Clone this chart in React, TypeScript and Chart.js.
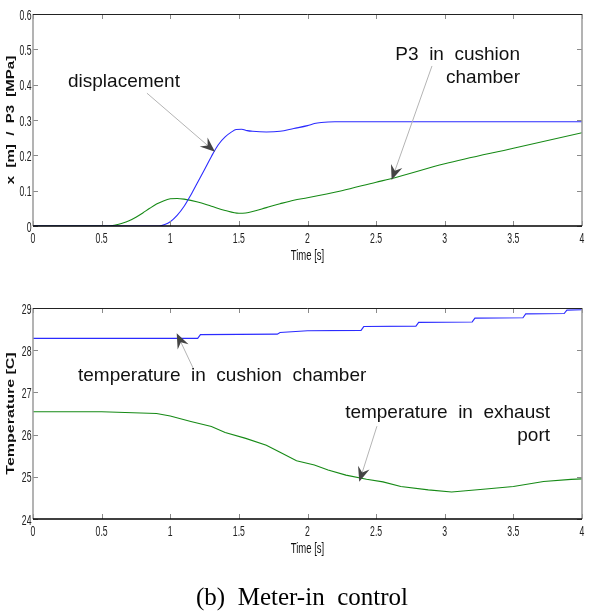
import React, { useEffect, useRef } from "react";
import { Chart, registerables } from "chart.js";

Chart.register(...registerables);

// ---------- data ----------
const timeTicks = [0, 0.5, 1, 1.5, 2, 2.5, 3, 3.5, 4];
const timeTickLabels = ["0", "0.5", "1", "1.5", "2", "2.5", "3", "3.5", "4"];
const topYTicks = [0, 0.1, 0.2, 0.3, 0.4, 0.5, 0.6];
const topYTickLabels = ["0", "0.1", "0.2", "0.3", "0.4", "0.5", "0.6"];
const tempTicks = [24, 25, 26, 27, 28, 29];
const tempTickLabels = ["24", "25", "26", "27", "28", "29"];

const dispTime = [0, 0.92, 0.96, 1.0, 1.05, 1.1, 1.15, 1.2, 1.25, 1.3, 1.35, 1.4, 1.45, 1.48, 1.52, 1.56, 1.6, 1.7, 1.8, 1.9, 2.0, 2.05, 2.1, 2.2, 2.5, 3.0, 3.5, 4.0];
const dispValues = [0, 0, 0.004, 0.012, 0.03, 0.055, 0.088, 0.124, 0.16, 0.197, 0.23, 0.252, 0.267, 0.273, 0.274, 0.27, 0.268, 0.266, 0.268, 0.276, 0.284, 0.29, 0.293, 0.295, 0.295, 0.295, 0.295, 0.295];

const p3Time = [0, 0.55, 0.6, 0.65, 0.7, 0.75, 0.8, 0.85, 0.9, 0.95, 1.0, 1.05, 1.1, 1.2, 1.3, 1.4, 1.5, 1.55, 1.6, 1.7, 1.8, 1.9, 2.0, 2.25, 2.5, 2.6, 3.0, 3.5, 4.0];
const p3Values = [0, 0, 0.003, 0.008, 0.015, 0.025, 0.037, 0.05, 0.062, 0.071, 0.077, 0.078, 0.076, 0.068, 0.056, 0.044, 0.036, 0.037, 0.041, 0.052, 0.063, 0.073, 0.08, 0.1, 0.124, 0.133, 0.176, 0.22, 0.264];

const cushionTime = [0, 1.2, 1.22, 1.78, 1.8, 2.0, 2.39, 2.41, 2.79, 2.81, 3.2, 3.22, 3.57, 3.59, 3.87, 3.89, 4.0];
const cushionTemp = [28.28, 28.28, 28.37, 28.38, 28.42, 28.46, 28.47, 28.56, 28.57, 28.66, 28.67, 28.76, 28.77, 28.86, 28.87, 28.95, 28.96];

const exhaustTime = [0, 0.5, 0.9, 1.0, 1.15, 1.3, 1.4, 1.55, 1.7, 1.8, 1.92, 2.05, 2.15, 2.28, 2.43, 2.55, 2.68, 2.88, 3.05, 3.3, 3.5, 3.72, 3.92, 4.0];
const exhaustTemp = [26.54, 26.54, 26.5, 26.44, 26.31, 26.19, 26.05, 25.91, 25.75, 25.58, 25.38, 25.28, 25.16, 25.04, 24.94, 24.88, 24.77, 24.69, 24.64, 24.71, 24.77, 24.89, 24.94, 24.95];

// ---------- annotations (data coordinates) ----------
type Note = { lines: string[]; x: number; y: number; align: CanvasTextAlign };
type Arrow = { from: [number, number]; to: [number, number] };

const topNotes: Note[] = [
  { lines: ["displacement"], x: 0.255, y: 0.393, align: "left" },
  { lines: ["P3  in  cushion", "chamber"], x: 3.548, y: 0.47, align: "right" },
];
const topArrows: Arrow[] = [
  { from: [0.83, 0.376], to: [1.326, 0.21] },
  { from: [2.907, 0.453], to: [2.613, 0.13] },
];
const bottomNotes: Note[] = [
  { lines: ["temperature  in  cushion  chamber"], x: 0.328, y: 27.27, align: "left" },
  { lines: ["temperature  in  exhaust", "port"], x: 3.767, y: 26.39, align: "right" },
];
const bottomArrows: Arrow[] = [
  { from: [1.166, 27.58], to: [1.047, 28.4] },
  { from: [2.506, 26.2], to: [2.377, 24.88] },
];

const BLUE = "#2b2bff";
const GREEN = "#168a16";
const SANS = "'Liberation Sans', Arial, sans-serif";

function pts(xs: number[], ys: number[]) {
  return xs.map((x, i) => ({ x, y: ys[i] }));
}

function squeezed(ctx: any, text: string, x: number, y: number, align: CanvasTextAlign, sx: number) {
  ctx.save();
  ctx.translate(x, y);
  ctx.scale(sx, 1);
  ctx.textAlign = align;
  ctx.fillText(text, 0, 0);
  ctx.restore();
}

function makeAxesPlugin(yTicks: number[], yLabels: string[], yTitle: string, yTitleSize: number) {
  return {
    id: "axesframe",
    afterDatasetsDraw(chart: any) {
      const { ctx, chartArea: a, scales } = chart;
      const xs = scales.x;
      const ys = scales.y;
      ctx.save();
      // inward tick marks
      ctx.lineWidth = 1;
      ctx.strokeStyle = "#8a8a8a";
      ctx.beginPath();
      timeTicks.forEach((v) => {
        const px = Math.round(xs.getPixelForValue(v)) + 0.5;
        ctx.moveTo(px, a.bottom);
        ctx.lineTo(px, a.bottom - 5);
        ctx.moveTo(px, a.top);
        ctx.lineTo(px, a.top + 5);
      });
      yTicks.forEach((v) => {
        const py = Math.round(ys.getPixelForValue(v)) + 0.5;
        ctx.moveTo(a.left, py);
        ctx.lineTo(a.left + 5, py);
        ctx.moveTo(a.right, py);
        ctx.lineTo(a.right - 5, py);
      });
      ctx.stroke();
      // box
      ctx.strokeStyle = "#9a9a9a";
      ctx.lineWidth = 1.5;
      ctx.beginPath();
      ctx.moveTo(a.left, a.top);
      ctx.lineTo(a.left, a.bottom);
      ctx.moveTo(a.right, a.top);
      ctx.lineTo(a.right, a.bottom);
      ctx.stroke();
      ctx.strokeStyle = "#222";
      ctx.lineWidth = 1;
      ctx.beginPath();
      ctx.moveTo(a.left, Math.round(a.top) + 0.5);
      ctx.lineTo(a.right, Math.round(a.top) + 0.5);
      ctx.stroke();
      ctx.strokeStyle = "#000";
      ctx.lineWidth = 1.5;
      ctx.beginPath();
      ctx.moveTo(a.left, a.bottom);
      ctx.lineTo(a.right, a.bottom);
      ctx.stroke();

      // tick labels (condensed, like the reference)
      ctx.fillStyle = "#222";
      ctx.font = `14px ${SANS}`;
      ctx.textBaseline = "alphabetic";
      timeTicks.forEach((v, i) => {
        squeezed(ctx, timeTickLabels[i], xs.getPixelForValue(v), a.bottom + 17, "center", 0.62);
      });
      yTicks.forEach((v, i) => {
        squeezed(ctx, yLabels[i], a.left - 1.5, ys.getPixelForValue(v) + 5.5, "right", 0.62);
      });
      // x title
      ctx.fillStyle = "#111";
      ctx.font = `14px ${SANS}`;
      squeezed(ctx, "Time [s]", (a.left + a.right) / 2, a.bottom + 34, "center", 0.68);
      // y title (rotated, condensed)
      ctx.font = `bold ${yTitleSize}px ${SANS}`;
      ctx.save();
      ctx.translate(11.5, (a.top + a.bottom) / 2);
      ctx.scale(0.68, 1);
      ctx.rotate(-Math.PI / 2);
      ctx.textAlign = "center";
      ctx.textBaseline = "middle";
      ctx.fillText(yTitle, 0, 0);
      ctx.restore();
      ctx.restore();
    },
  };
}

function makeNotesPlugin(notes: Note[], arrows: Arrow[]) {
  return {
    id: "notes",
    afterDraw(chart: any) {
      const { ctx, scales } = chart;
      const xs = scales.x;
      const ys = scales.y;
      ctx.save();
      ctx.font = `19px ${SANS}`;
      ctx.fillStyle = "#111";
      ctx.textBaseline = "alphabetic";
      notes.forEach((n) => {
        ctx.textAlign = n.align;
        const px = xs.getPixelForValue(n.x);
        const py = ys.getPixelForValue(n.y);
        n.lines.forEach((l, i) => ctx.fillText(l, px, py + i * 23));
      });
      arrows.forEach((ar) => {
        const x1 = xs.getPixelForValue(ar.from[0]);
        const y1 = ys.getPixelForValue(ar.from[1]);
        const x2 = xs.getPixelForValue(ar.to[0]);
        const y2 = ys.getPixelForValue(ar.to[1]);
        const dx = x2 - x1;
        const dy = y2 - y1;
        const len = Math.hypot(dx, dy);
        const ux = dx / len;
        const uy = dy / len;
        const nx = -uy;
        const ny = ux;
        const L = 15;
        const W = 12;
        ctx.strokeStyle = "#b4b4b4";
        ctx.lineWidth = 1;
        ctx.beginPath();
        ctx.moveTo(x1, y1);
        ctx.lineTo(x2 - ux * L * 0.6, y2 - uy * L * 0.6);
        ctx.stroke();
        const bx = x2 - ux * L;
        const by = y2 - uy * L;
        ctx.fillStyle = "#444";
        ctx.beginPath();
        ctx.moveTo(x2, y2);
        ctx.lineTo(bx + (nx * W) / 2, by + (ny * W) / 2);
        ctx.lineTo(x2 - ux * L * 0.65, y2 - uy * L * 0.65);
        ctx.lineTo(bx - (nx * W) / 2, by - (ny * W) / 2);
        ctx.closePath();
        ctx.fill();
      });
      ctx.restore();
    },
  };
}

type PanelProps = {
  top: number;
  height: number;
  padTop: number;
  datasets: any[];
  yMin: number;
  yMax: number;
  yTicks: number[];
  yTickLabels: string[];
  yTitle: string;
  yTitleSize: number;
  notes: Note[];
  arrows: Arrow[];
};

function Panel(p: PanelProps) {
  const ref = useRef<HTMLCanvasElement | null>(null);
  useEffect(() => {
    if (!ref.current) return;
    const chart = new Chart(ref.current, {
      type: "line",
      data: { datasets: p.datasets },
      options: {
        animation: false,
        responsive: false,
        layout: { padding: { left: 0, right: 10, top: p.padTop, bottom: 0 } },
        plugins: { legend: { display: false }, tooltip: { enabled: false } },
        elements: { point: { radius: 0 }, line: { borderWidth: 1.1 } },
        scales: {
          x: {
            type: "linear",
            min: 0,
            max: 4,
            afterBuildTicks: (s: any) => {
              s.ticks = timeTicks.map((v) => ({ value: v }));
            },
            afterFit: (s: any) => {
              s.height = 40;
            },
            grid: { display: false, drawTicks: false },
            border: { display: false },
            ticks: { display: false },
            title: { display: false },
          },
          y: {
            type: "linear",
            min: p.yMin,
            max: p.yMax,
            afterBuildTicks: (s: any) => {
              s.ticks = p.yTicks.map((v) => ({ value: v }));
            },
            afterFit: (s: any) => {
              s.width = 33;
            },
            grid: { display: false, drawTicks: false },
            border: { display: false },
            ticks: { display: false },
            title: { display: false },
          },
        },
      },
      plugins: [
        makeAxesPlugin(p.yTicks, p.yTickLabels, p.yTitle, p.yTitleSize),
        makeNotesPlugin(p.notes, p.arrows),
      ],
    } as any);
    return () => chart.destroy();
  }, []);
  return (
    <canvas
      ref={ref}
      width={592}
      height={p.height}
      style={{ position: "absolute", left: 0, top: p.top, width: 592, height: p.height }}
    />
  );
}

export default function App() {
  const topDatasets = [
    {
      label: "x",
      data: pts(dispTime, dispValues),
      borderColor: BLUE,
      cubicInterpolationMode: "monotone",
    },
    {
      label: "P3",
      data: pts(p3Time, p3Values),
      borderColor: GREEN,
      cubicInterpolationMode: "monotone",
    },
  ];
  const bottomDatasets = [
    {
      label: "cushion",
      data: pts(cushionTime, cushionTemp),
      borderColor: BLUE,
    },
    {
      label: "exhaust",
      data: pts(exhaustTime, exhaustTemp),
      borderColor: GREEN,
    },
  ];
  return (
    <div style={{ position: "fixed", left: 0, top: 0, width: 592, height: 615, background: "#fff" }}>
      <Panel
        top={0}
        height={266}
        padTop={14}
        datasets={topDatasets}
        yMin={0}
        yMax={0.6}
        yTicks={topYTicks}
        yTickLabels={topYTickLabels}
        yTitle="x  [m]  /  P3  [MPa]"
        yTitleSize={15}
        notes={topNotes}
        arrows={topArrows}
      />
      <Panel
        top={282}
        height={277}
        padTop={26}
        datasets={bottomDatasets}
        yMin={24}
        yMax={29}
        yTicks={tempTicks}
        yTickLabels={tempTickLabels}
        yTitle="Temperature [C]"
        yTitleSize={16}
        notes={bottomNotes}
        arrows={bottomArrows}
      />
      <div
        style={{
          position: "absolute",
          left: 6,
          top: 585,
          width: 592,
          textAlign: "center",
          fontFamily: "'Liberation Serif', 'Times New Roman', serif",
          fontSize: 25,
          lineHeight: "24px",
          whiteSpace: "pre",
          color: "#000",
        }}
      >
        {"(b)  Meter-in  control"}
      </div>
    </div>
  );
}
